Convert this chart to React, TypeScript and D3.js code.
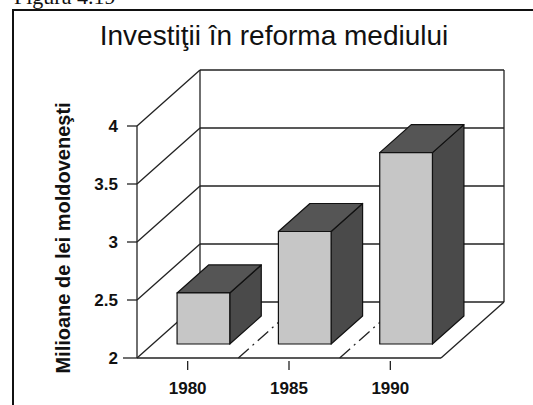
import React from "react";
import * as d3 from "d3";

const categories = ["1980", "1985", "1990"];
const values = [2.44, 2.97, 3.65];
const yTicks = [2, 2.5, 3, 3.5, 4];
const yTickLabels = ["2", "2.5", "3", "3.5", "4"];
const title = "Investiţii în reforma mediului";
const yTitle = "Milioane de lei moldoveneşti";
const caption = "Figura 4.19";

export default function App() {
  const W = 533, H = 405;
  const x0 = 137, x1 = 441;
  const DX = 63, DY = -56;
  const y = d3.scaleLinear().domain([2, 4]).range([358, 126]);
  const x = d3.scaleBand().domain(categories).range([x0, x1]).paddingInner(0.48).paddingOuter(0.24);
  const P = (xv: number, v: number, d: number): [number, number] => [xv + DX * d, y(v) + DY * d];
  const poly = (pts: [number, number][]) => pts.map((p) => p.join(",")).join(" ");
  const font = "'Liberation Sans', Arial, Helvetica, sans-serif";
  const step = x.step();
  const dividers = [1, 2].map((i) => x0 + step * i);
  const bw = x.bandwidth();
  const yMin = 2, yMax = 4;

  return (
    <svg width={W} height={H} style={{ position: "absolute", left: 0, top: 0, background: "#fff" }}>
      <rect x={0} y={0} width={W} height={H} fill="#fff" />
      <text x={14} y={4} fontFamily="'Liberation Serif', 'Times New Roman', serif" fontSize={22} fill="#111">{caption}</text>
      <rect x={13} y={10} width={700} height={600} fill="none" stroke="#111" strokeWidth={2} />
      <text x={274} y={45} textAnchor="middle" fontFamily={font} fontSize={28} fill="#111">{title}</text>
      <text transform={`translate(63,238) rotate(-90)`} textAnchor="middle" dominantBaseline="central" fontFamily={font} fontWeight="bold" fontSize={20} fill="#111">{yTitle}</text>

      {/* back wall */}
      <g stroke="#222" strokeWidth={1.3} fill="none">
        <line x1={P(x0, yMin, 1)[0]} y1={P(x0, yMin, 1)[1]} x2={P(x0, yMax, 1)[0]} y2={P(x0, yMax, 1)[1]} />
        <line x1={P(x1, yMin, 1)[0]} y1={P(x1, yMin, 1)[1]} x2={P(x1, yMax, 1)[0]} y2={P(x1, yMax, 1)[1]} />
        {yTicks.map((t) => (
          <line key={"bw" + t} x1={P(x0, t, 1)[0]} y1={P(x0, t, 1)[1]} x2={P(x1, t, 1)[0]} y2={P(x1, t, 1)[1]} />
        ))}
        {/* left wall */}
        <line x1={x0} y1={y(yMin)} x2={x0} y2={y(yMax)} />
        {yTicks.map((t) => (
          <line key={"lw" + t} x1={P(x0, t, 0)[0]} y1={P(x0, t, 0)[1]} x2={P(x0, t, 1)[0]} y2={P(x0, t, 1)[1]} />
        ))}
        {/* floor */}
        <line x1={x0} y1={y(yMin)} x2={x1} y2={y(yMin)} />
        <line x1={P(x1, yMin, 0)[0]} y1={P(x1, yMin, 0)[1]} x2={P(x1, yMin, 1)[0]} y2={P(x1, yMin, 1)[1]} />
        {dividers.map((dx, i) => (
          <line key={"dv" + i} x1={P(dx, yMin, 0)[0]} y1={P(dx, yMin, 0)[1]} x2={P(dx, yMin, 1)[0]} y2={P(dx, yMin, 1)[1]} strokeDasharray="14,5,2,5" />
        ))}
        {/* y ticks */}
        {yTicks.map((t) => (
          <line key={"yt" + t} x1={x0 - (t === 2 ? 14 : 10)} y1={y(t)} x2={x0} y2={y(t)} />
        ))}
        {/* x ticks */}
        {categories.map((c) => {
          const cx = (x(c) as number) + bw / 2;
          return <line key={"xt" + c} x1={cx} y1={y(yMin) + 3} x2={cx} y2={y(yMin) + 12} />;
        })}
      </g>

      {yTicks.map((t, i) => (
        <text key={"yl" + t} x={118} y={y(t)} dy="0.36em" textAnchor="end" fontFamily={font} fontWeight="bold" fontSize={17} fill="#111">{yTickLabels[i]}</text>
      ))}
      {categories.map((c) => (
        <text key={"xl" + c} x={(x(c) as number) + bw / 2} y={394} textAnchor="middle" fontFamily={font} fontWeight="bold" fontSize={17} fill="#111">{c}</text>
      ))}

      {/* bars */}
      {categories.map((c, i) => {
        const l = x(c) as number;
        const r = l + bw;
        const v = values[i];
        const d0 = 0.25, d1 = 0.75;
        const front = [P(l, v, d0), P(r, v, d0), P(r, yMin, d0), P(l, yMin, d0)];
        const top = [P(l, v, d0), P(r, v, d0), P(r, v, d1), P(l, v, d1)];
        const side = [P(r, v, d0), P(r, v, d1), P(r, yMin, d1), P(r, yMin, d0)];
        return (
          <g key={"bar" + c} stroke="#111" strokeWidth={1.2} strokeLinejoin="round">
            <polygon points={poly(side)} fill="#4a4a4a" />
            <polygon points={poly(top)} fill="#555" />
            <polygon points={poly(front)} fill="#c6c6c6" />
          </g>
        );
      })}
    </svg>
  );
}
